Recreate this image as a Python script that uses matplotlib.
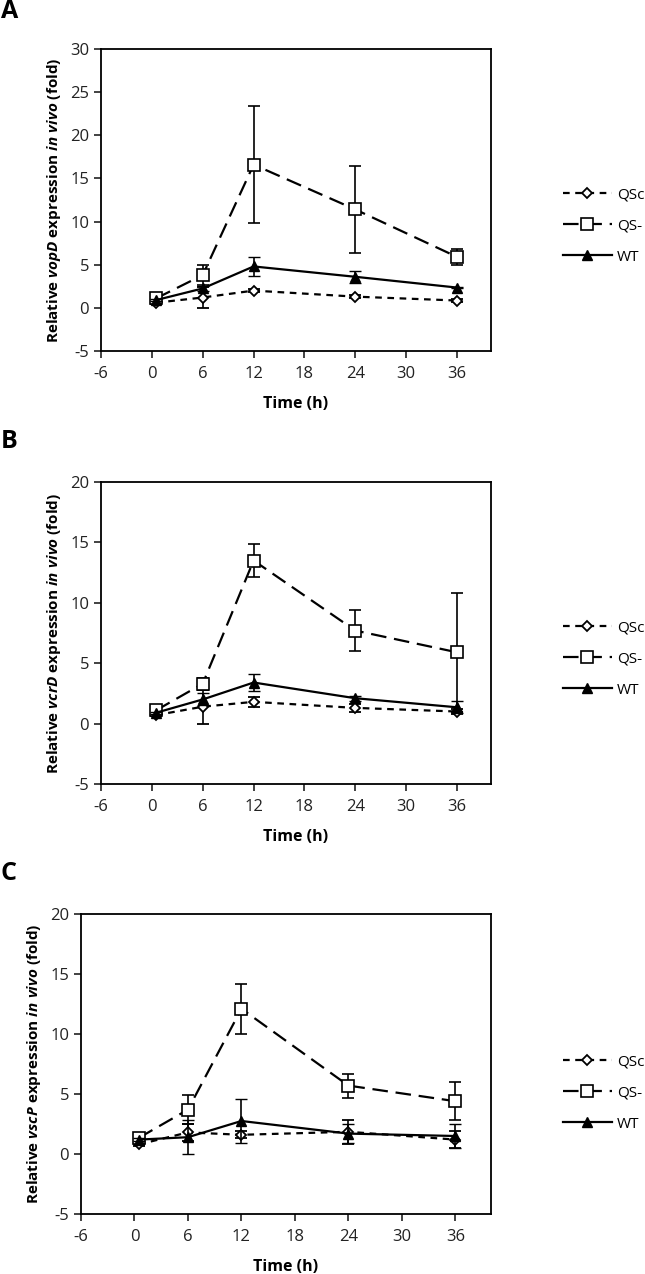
import matplotlib
matplotlib.use("Agg")
import matplotlib.pyplot as plt
from matplotlib.lines import Line2D

plt.rcParams["font.family"] = ["Open Sans", "DejaVu Sans"]
plt.rcParams["mathtext.fontset"] = "custom"
plt.rcParams["mathtext.it"] = "Open Sans:italic:bold"
plt.rcParams["mathtext.rm"] = "Open Sans:bold"
plt.rcParams["axes.unicode_minus"] = False

# sampling times (h)
time_h = [0.5, 6, 12, 24, 36]
x_ticks = [-6, 0, 6, 12, 18, 24, 30, 36]
series_names = ["QSc", "QS-", "WT"]

# A: vopD
vopd_qsc = [0.6, 1.2, 2.0, 1.3, 0.85]
vopd_qsc_err = [0.1, 1.2, 0.2, 0.2, 0.15]
vopd_qsm = [1.1, 3.8, 16.6, 11.4, 5.9]
vopd_qsm_err = [0.2, 1.2, 6.8, 5.0, 0.9]
vopd_wt = [0.9, 2.25, 4.8, 3.6, 2.35]
vopd_wt_err = [0.1, 0.3, 1.1, 0.7, 0.1]

# B: vcrD
vcrd_qsc = [0.7, 1.4, 1.8, 1.3, 1.0]
vcrd_qsc_err = [0.1, 1.4, 0.4, 0.3, 0.2]
vcrd_qsm = [1.1, 3.3, 13.5, 7.7, 5.9]
vcrd_qsm_err = [0.2, 0.5, 1.4, 1.7, 4.9]
vcrd_wt = [0.9, 2.0, 3.4, 2.1, 1.35]
vcrd_wt_err = [0.1, 0.5, 0.7, 0.2, 0.5]

# C: vscP
vscp_qsc = [0.8, 1.8, 1.6, 1.85, 1.2]
vscp_qsc_err = [0.1, 0.7, 0.3, 1.0, 0.7]
vscp_qsm = [1.35, 3.7, 12.1, 5.7, 4.4]
vscp_qsm_err = [0.2, 1.2, 2.1, 1.0, 1.6]
vscp_wt = [1.2, 1.4, 2.75, 1.7, 1.5]
vscp_wt_err = [0.1, 1.4, 1.8, 0.8, 1.0]

W, H = 645, 1274
fig = plt.figure(figsize=(W / 100, H / 100), dpi=100)

# (letter, gene, axes box in px, ylim, yticks, series..., letter y, legend centre y)
panels = [
    ("A", "vopD", [101, 49, 491, 351], (-5, 30), [-5, 0, 5, 10, 15, 20, 25, 30],
     (vopd_qsc, vopd_qsc_err), (vopd_qsm, vopd_qsm_err), (vopd_wt, vopd_wt_err), 11, 226),
    ("B", "vcrD", [101, 482, 491, 784], (-5, 20), [-5, 0, 5, 10, 15, 20],
     (vcrd_qsc, vcrd_qsc_err), (vcrd_qsm, vcrd_qsm_err), (vcrd_wt, vcrd_wt_err), 442, 659),
    ("C", "vscP", [81, 914, 491, 1214], (-5, 20), [-5, 0, 5, 10, 15, 20],
     (vscp_qsc, vscp_qsc_err), (vscp_qsm, vscp_qsm_err), (vscp_wt, vscp_wt_err), 874, 1093),
]

styles = [
    dict(dashes=(3, 2.5), marker="D", ms=5.5, mfc="white", mew=1.3),
    dict(dashes=(7, 3.5), marker="s", ms=9, mfc="white", mew=1.2),
    dict(ls="-", marker="^", ms=7.5, mfc="black", mew=1.0),
]


def px_axes(box):
    x0, y0, x1, y1 = box
    return [x0 / W, 1 - y1 / H, (x1 - x0) / W, (y1 - y0) / H]


for letter, gene, box, ylim, yticks, qsc, qsm, wt, letter_y, leg_y in panels:
    ax = fig.add_axes(px_axes(box))
    handles = []
    for (vals, errs), st, name, z in zip([qsc, qsm, wt], styles, series_names, [3, 3, 4]):
        ax.errorbar(time_h, vals, yerr=errs, color="black", lw=1.6, mec="black",
                    ecolor="black", elinewidth=1.2, capsize=4, capthick=1.2, zorder=z, **st)
        handles.append(Line2D([], [], color="black", lw=1.6, mec="black", label=name, **st))

    ax.set_xlim(-6, 40)
    ax.set_ylim(*ylim)
    ax.set_xticks(x_ticks)
    ax.set_yticks(yticks)
    ax.tick_params(direction="out", length=5, width=1.2, labelsize=12, colors="#222222")
    ax.tick_params(axis="x", pad=6)
    for s in ax.spines.values():
        s.set_linewidth(1.3)
        s.set_color("black")
    ax.set_xlabel("Time (h)", fontsize=11.5, fontweight="bold", labelpad=10)
    ax.set_ylabel("Relative $\\mathit{" + gene + "}$ expression $\\mathit{in\\ vivo}$ (fold)",
                  fontsize=11, fontweight="bold", labelpad=5)

    fig.text(1 / W, 1 - letter_y / H, letter, fontsize=18, fontweight="bold", va="center")

    ax.legend(handles=handles, loc="center left", bbox_to_anchor=(563 / W, 1 - leg_y / H),
              bbox_transform=fig.transFigure, frameon=False, fontsize=11,
              handlelength=3.2, handletextpad=0.35, labelspacing=1.05,
              borderpad=0, borderaxespad=0)

fig.savefig("out.png", dpi=100)
